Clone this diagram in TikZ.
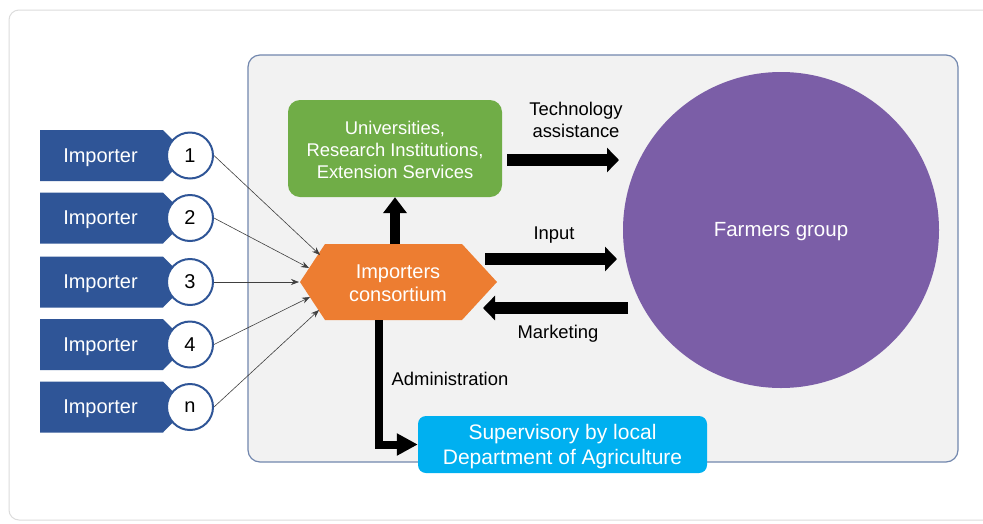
\documentclass[tikz,border=0pt]{standalone}
\usepackage{fontspec}
\setmainfont{Liberation Sans}
\usetikzlibrary{arrows.meta}
\definecolor{impblue}{HTML}{2F5597}
\definecolor{unigreen}{HTML}{70AD47}
\definecolor{hexorange}{HTML}{ED7D31}
\definecolor{farmpurple}{HTML}{7B5EA7}
\definecolor{supblue}{HTML}{00B0F0}
\definecolor{panelgray}{HTML}{F2F2F2}
\definecolor{panelline}{HTML}{7287AE}
\definecolor{cardline}{HTML}{DCDCDC}
\definecolor{thinline}{HTML}{404040}
\tikzset{
  imptext/.style={text=white, font=\fontsize{20}{24}\selectfont},
  impcirc/.style={circle, draw=impblue, line width=2pt, fill=white, minimum size=46pt, inner sep=0pt, font=\fontsize{20}{24}\selectfont},
  thinarrow/.style={draw=thinline, line width=0.6pt, -{Stealth[length=8pt,width=6pt]}},
  blockarrow/.style={line width=12pt, -{Triangle[length=12pt,width=24pt]}},
  uparrow/.style={line width=10pt, -{Triangle[length=16pt,width=23pt]}},
  adminarrow/.style={line width=8pt, line join=miter, -{Triangle[length=21pt,width=21pt]}},
  lbl/.style={font=\fontsize{18.4}{22}\selectfont, align=center, inner sep=0pt},
}
\newcommand{\lowertext}[2]{\raisebox{0pt}[\dimexpr\height+#1\relax][\depth]{#2}}
\begin{document}
\begin{tikzpicture}[x=1pt,y=-1pt]
\useasboundingbox (0,0) rectangle (983,523);
\clip (0,0) rectangle (983,523);
\fill[white] (0,0) rectangle (983,523);
% outer card
\draw[cardline, line width=1pt, rounded corners=10pt] (9,10) rectangle (1010,520);
% panel
\draw[panelline, fill=panelgray, line width=1.2pt, rounded corners=12pt] (248,55) rectangle (958,462);

% importers
\foreach \y/\lab/\n in {155.5/1/1, 218/2/2, 282/3/3, 344.5/4/4, 407/n/5}{
  \fill[impblue] (40,\y-25.5) -- (163,\y-25.5) -- (188,\y) -- (163,\y+25.5) -- (40,\y+25.5) -- cycle;
  \node[imptext] (imp\n) at (100.5,\y+2) {Importer};
  \node[impcirc] (c\n) at (190,\y) {\lab};
}

% hexagon
\fill[hexorange] (300,282) -- (325,244) -- (462,244) -- (497,282) -- (462,320) -- (325,320) -- cycle;
\node[text=white, font=\fontsize{20}{23}\selectfont, align=center, inner sep=0pt] (hex) at (398,283.5) {Importers\\consortium};

% target coordinates on the hexagon
\coordinate (h1) at (320,255);
\coordinate (h2) at (309,268);
\coordinate (h3) at (299,282);
\coordinate (h4) at (310,297);
\coordinate (h5) at (319,310);
\foreach \n in {1,...,5}{
  \draw[thinarrow] (c\n.east) -- (h\n);
}

% green box
\node[fill=unigreen, rounded corners=12pt, minimum width=214pt, minimum height=97pt, text=white,
      font=\fontsize{18.4}{22}\selectfont, inner sep=0pt] (uni) at (395,148.5)
      {\lowertext{2pt}{\parbox{210pt}{\centering Universities,\\Research Institutions,\\Extension Services}}};

% farmers circle
\node[circle, fill=farmpurple, minimum size=316pt, inner sep=0pt, text=white,
      font=\fontsize{20.5}{24}\selectfont] (farm) at (781,230) {\lowertext{4pt}{Farmers group}};

% supervisory box
\node[fill=supblue, rounded corners=8pt, minimum width=289pt, minimum height=57pt, text=white,
      font=\fontsize{21}{25}\selectfont, inner sep=0pt] (sup) at (562.5,444.5)
      {\lowertext{4pt}{\parbox{285pt}{\centering Supervisory by local\\Department of Agriculture}}};

% block arrows
\coordinate (techS) at (507,160);
\coordinate (techE) at (619,160);
\draw[blockarrow] (techS) -- (techE);
\coordinate (inS) at (485,259);
\coordinate (inE) at (617,259);
\draw[blockarrow] (inS) -- (inE);
\coordinate (mkS) at (628,308);
\coordinate (mkE) at (483,308);
\draw[blockarrow] (mkS) -- (mkE);
\coordinate (upS) at (395,244);
\draw[uparrow] (upS) -- (uni.south);
\coordinate (adS) at (379,320);
\draw[adminarrow] (adS) |- (sup.west);

% labels
\node[lbl] (ltech) at (576,120) {Technology\\assistance};
\node[lbl] (lin) at (554,235.5) {Input};
\node[lbl] (lmk) at (558,334) {Marketing};
\node[lbl] (lad) at (450,379) {Administration};
\end{tikzpicture}
\end{document}
